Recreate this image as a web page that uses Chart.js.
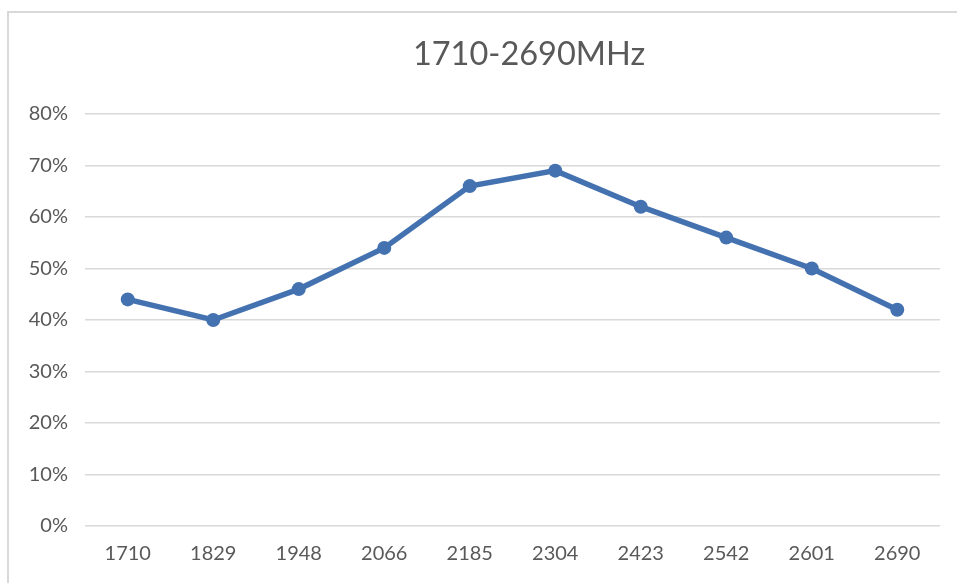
<!DOCTYPE html>
<html>
<head>
<meta charset="utf-8">
<script src="https://cdn.jsdelivr.net/npm/chart.js@4"></script>
<style>
  html, body { margin: 0; padding: 0; background: #ffffff; }
  #wrap { position: relative; width: 958px; height: 583px; overflow: hidden; }
  #frame { position: absolute; left: 7px; top: 11px; width: 950px; height: 600px;
           border-left: 2px solid #d9d9d9; border-top: 2px solid #d9d9d9; box-sizing: border-box; }
  canvas { position: absolute; left: 0; top: 0; }
</style>
</head>
<body>
<div id="wrap">
  <div id="frame"></div>
  <canvas id="c" width="958" height="583"></canvas>
</div>
<script>
const titleText = "1710-2690MHz";
const categories = ["1710", "1829", "1948", "2066", "2185", "2304", "2423", "2542", "2601", "2690"];
const efficiency = [44, 40, 46, 54, 66, 69, 62, 56, 50, 42];
const yTicks = [0, 10, 20, 30, 40, 50, 60, 70, 80];

const FONT = "Lato, 'Open Sans', 'Liberation Sans', sans-serif";
const TEXT = "#595959";
const BLUE = "#4472B0";

const titlePlugin = {
  id: "offsetTitle",
  afterDraw(chart) {
    const ctx = chart.ctx;
    ctx.save();
    ctx.font = "32.5px " + FONT;
    ctx.fillStyle = TEXT;
    ctx.textAlign = "center";
    ctx.textBaseline = "middle";
    ctx.fillText(titleText, 529, 55);
    ctx.restore();
  }
};

new Chart(document.getElementById("c"), {
  type: "line",
  data: {
    labels: categories,
    datasets: [{
      data: efficiency,
      borderColor: BLUE,
      backgroundColor: BLUE,
      borderWidth: 5.5,
      pointRadius: 7,
      pointBackgroundColor: BLUE,
      pointBorderColor: BLUE,
      pointBorderWidth: 0,
      tension: 0,
      fill: false
    }]
  },
  options: {
    responsive: false,
    animation: false,
    layout: { padding: { left: 0, right: 18, top: 114, bottom: 0 } },
    plugins: { legend: { display: false }, title: { display: false }, tooltip: { enabled: false } },
    scales: {
      x: {
        type: "category",
        offset: true,
        grid: { display: false, drawTicks: false },
        border: { display: false },
        ticks: { color: TEXT, font: { family: FONT, size: 20 }, padding: 16, maxRotation: 0, autoSkip: false },
        afterFit(axis) { axis.height = 57; }
      },
      y: {
        min: 0, max: 80,
        afterBuildTicks(axis) { axis.ticks = yTicks.map(v => ({ value: v })); },
        grid: { color: "#d9d9d9", lineWidth: 1.5, drawTicks: false },
        border: { display: false },
        ticks: { color: TEXT, font: { family: FONT, size: 20 }, padding: 17, callback: v => v + "%" },
        afterFit(axis) { axis.width = 85; }
      }
    }
  },
  plugins: [titlePlugin]
});
</script>
</body>
</html>
